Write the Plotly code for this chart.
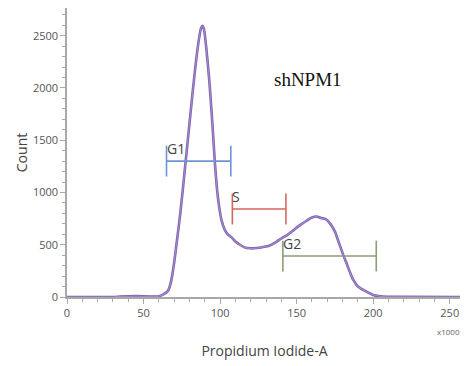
import plotly.graph_objects as go

# Histogram curve (Propidium Iodide-A, x1000) and counts
pi_values = [0, 30, 35, 45, 55, 60, 63, 66, 68, 70, 72, 74, 76, 78, 80, 82, 84, 86, 87.5, 88.5,
             89.5, 91, 93, 95, 96.5, 98, 99.5, 101, 103, 105, 107.5, 110, 112.9, 116, 119.5,
             124, 128, 132, 136, 140, 144, 148, 152, 156, 160, 163, 166, 169, 172, 175, 177,
             180, 182.6, 185, 187, 190, 195.6, 200, 206, 215, 258]
counts = [0, 0, 5, 8, 5, 8, 25, 60, 150, 330, 560, 800, 1080, 1370, 1660, 1950, 2220, 2450, 2570, 2595,
          2560, 2380, 2060, 1650, 1300, 1030, 850, 730, 645, 600, 570, 530, 500, 475, 466,
          468, 478, 490, 520, 560, 595, 640, 685, 725, 760, 770, 755, 745, 700, 625, 545,
          420, 322, 230, 163, 100, 51, 20, 5, 2, 0]

# Gates
gate_names = ["G1", "S", "G2"]
gate_start = [65, 108, 141]
gate_end = [107, 143, 202]
gate_level = [1300, 842, 392]
gate_colors = ["#7093d3", "#d4685e", "#8c9c74"]

x_ticks = [0, 50, 100, 150, 200, 250]
y_ticks = [0, 500, 1000, 1500, 2000, 2500]

fig = go.Figure()
fig.add_trace(go.Scatter(x=pi_values, y=counts, mode="lines",
                         line=dict(color="#7a5fa6", width=2.6, shape="spline", smoothing=0.5),
                         hoverinfo="skip"))
fig.add_trace(go.Scatter(x=pi_values, y=counts, mode="lines",
                         line=dict(color="#a087d2", width=1.2, shape="spline", smoothing=0.5)))

for name, x0, x1, lvl, col in zip(gate_names, gate_start, gate_end, gate_level, gate_colors):
    fig.add_trace(go.Scatter(x=[x0, x1], y=[lvl, lvl], mode="lines+markers",
                             line=dict(color=col, width=1.6),
                             marker=dict(symbol="line-ns-open", size=22,
                                         line=dict(color=col, width=1.6))))
    fig.add_annotation(x=x0, y=lvl, text=name, showarrow=False, xanchor="left",
                       yanchor="bottom", yshift=1, xshift=-2,
                       font=dict(family="Open Sans", size=14, color="#444"))

fig.add_annotation(x=0.61, y=0.796, xref="paper", yref="paper", text="shNPM1",
                   showarrow=False, font=dict(family="Liberation Serif", size=19, color="#111"))
fig.add_annotation(x=1.0, y=-0.118, xref="paper", yref="paper", text="x1000",
                   showarrow=False, xanchor="right", yanchor="middle",
                   font=dict(family="Open Sans", size=8, color="#666"))

axis_common = dict(showline=True, linecolor="#a8a8a8", linewidth=1.5, ticks="outside",
                   ticklen=5, tickcolor="#a8a8a8", showgrid=False, zeroline=False,
                   automargin=False,
                   tickfont=dict(family="Open Sans", size=11, color="#555"))

fig.update_xaxes(range=[0, 258], tickvals=x_ticks,
                 minor=dict(dtick=10, ticklen=3, tickcolor="#a8a8a8", ticks="outside"),
                 title=dict(text="Propidium Iodide-A", standoff=27,
                            font=dict(family="Open Sans", size=14, color="#444")),
                 **axis_common)
fig.update_yaxes(range=[0, 2765], tickvals=y_ticks,
                 minor=dict(dtick=100, ticklen=3, tickcolor="#a8a8a8", ticks="outside"),
                 title=dict(text="Count", standoff=2,
                            font=dict(family="Open Sans", size=14, color="#444")),
                 **axis_common)

# page body adds an 8px offset, so the figure is sized 460x358 to fill the window
fig.update_layout(width=460, height=358, margin=dict(l=59, r=6, t=0, b=69),
                  plot_bgcolor="white", paper_bgcolor="white", showlegend=False)

fig.write_html("out.html")
